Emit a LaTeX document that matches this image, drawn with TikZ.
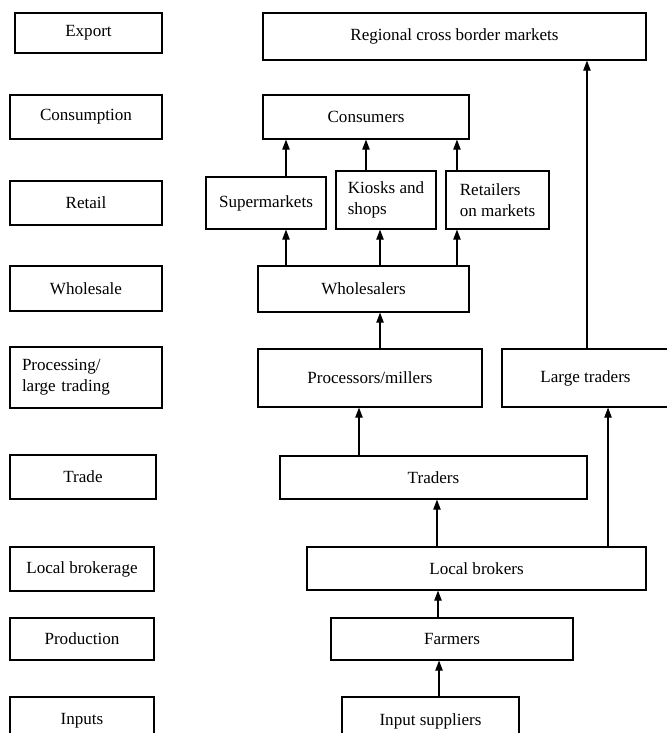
\documentclass[tikz,border=0pt]{standalone}
\usepackage{fontspec}
\setmainfont{Liberation Serif}
\usetikzlibrary{arrows.meta}

\tikzset{
  box/.style={draw, line width=0.85pt, inner sep=2pt, font=\fontsize{12.8}{16}\selectfont},
  lbox/.style={box, align=left},
  wh/.style 2 args={minimum width=#1*0.75pt, minimum height=#2*0.75pt},
  arr/.style={line width=0.85pt, -{Triangle[length=7.5pt,width=5.5pt]}}
}

\begin{document}
\begin{tikzpicture}[x=0.75pt, y=-0.75pt]
\useasboundingbox (0,0) rectangle (667,733);

% stages of the chain
\node[box, wh={147}{40}] (export) at (88.5,33) {Export};
\node[box, wh={152}{44}] (consumption) at (86,117) {Consumption};
\node[box, wh={152}{44}] (retail) at (86,203) {Retail};
\node[box, wh={152}{45}] (wholesale) at (86,288.5) {Wholesale};
\node[lbox, text width=96pt, inner xsep=9pt, wh={152}{61}] (processing) at (86,377.5) {Processing/\\large trading};
\node[box, wh={146}{44}] (trade) at (83,477) {Trade};
\node[box, wh={144}{44}] (brokerage) at (82,569) {Local brokerage};
\node[box, wh={144}{42}] (production) at (82,639) {Production};
\node[box, wh={144}{48}] (inputs) at (82,721) {Inputs};

% actors
\node[box, wh={383}{47}] (regional) at (454.5,36.5) {Regional cross border markets};
\node[box, wh={206}{44}] (consumers) at (366,117) {Consumers};
\node[box, wh={120}{52}] (supermarkets) at (266,203) {Supermarkets};
\node[lbox, wh={100}{58}] (kiosks) at (386,200) {Kiosks and\\shops};
\node[lbox, wh={103}{58}] (retailers) at (497.5,200) {Retailers\\on markets};
\node[box, wh={211}{46}] (wholesalers) at (363.5,289) {Wholesalers};
\node[box, wh={224}{58}] (processors) at (370,378) {Processors/millers};
\node[box, wh={167}{58}] (largetraders) at (585.5,378) {Large traders};
\node[box, wh={307}{43}] (traders) at (433.5,477.5) {Traders};
\node[box, wh={339}{43}] (brokers) at (476.5,568.5) {Local brokers};
\node[box, wh={242}{42}] (farmers) at (452,639) {Farmers};
\node[box, wh={177}{48}] (suppliers) at (430.5,721) {Input suppliers};

% flows
\draw[arr] ([xshift=15pt]supermarkets.north) -- ([xshift=15pt]supermarkets.north |- consumers.south);
\draw[arr] ([xshift=-15pt]kiosks.north) -- ([xshift=-15pt]kiosks.north |- consumers.south);
\draw[arr] ([xshift=-30.4pt]retailers.north) -- ([xshift=-30.4pt]retailers.north |- consumers.south);
\draw[arr] ([xshift=15pt]supermarkets.south |- wholesalers.north) -- ([xshift=15pt]supermarkets.south);
\draw[arr] ([xshift=-4.5pt]kiosks.south |- wholesalers.north) -- ([xshift=-4.5pt]kiosks.south);
\draw[arr] ([xshift=-30.4pt]retailers.south |- wholesalers.north) -- ([xshift=-30.4pt]retailers.south);
\draw[arr] ([xshift=12.4pt]wholesalers.south |- processors.north) -- ([xshift=12.4pt]wholesalers.south);
\draw[arr] ([xshift=-8.25pt]processors.south |- traders.north) -- ([xshift=-8.25pt]processors.south);
\draw[arr] ([xshift=1.1pt]largetraders.north) -- ([xshift=1.1pt]largetraders.north |- regional.south);
\draw[arr] ([xshift=2.6pt]traders.south |- brokers.north) -- ([xshift=2.6pt]traders.south);
\draw[arr] ([xshift=16.9pt]largetraders.south |- brokers.north) -- ([xshift=16.9pt]largetraders.south);
\draw[arr] ([xshift=-10.5pt]farmers.north) -- ([xshift=-10.5pt]farmers.north |- brokers.south);
\draw[arr] ([xshift=6.4pt]suppliers.north) -- ([xshift=6.4pt]suppliers.north |- farmers.south);
\end{tikzpicture}
\end{document}
